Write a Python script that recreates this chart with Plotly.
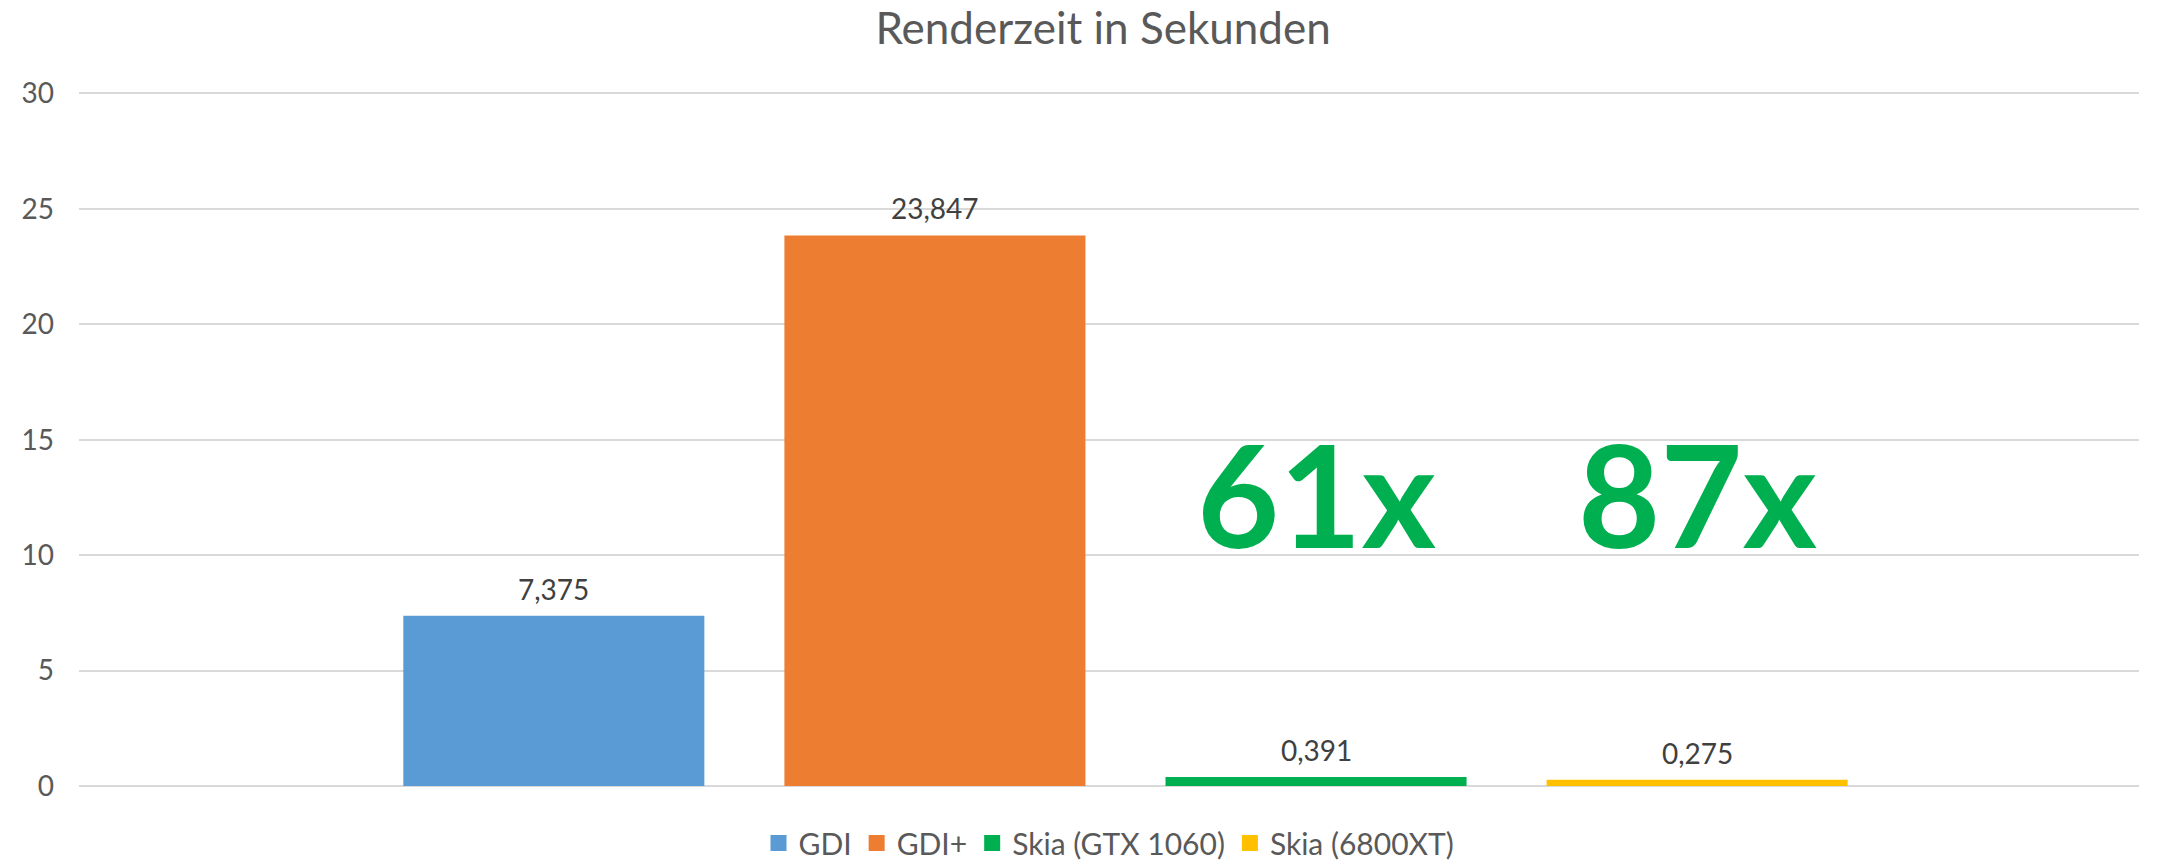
import plotly.graph_objects as go

# ---- data ----
category = ["Renderzeit"]
series_names = ["GDI", "GDI+", "Skia (GTX 1060)", "Skia (6800XT)"]
series_values = [7.375, 23.847, 0.391, 0.275]
series_colors = ["#5B9BD5", "#ED7D31", "#00B050", "#FFC000"]
speedup_labels = ["", "", "61x", "87x"]
y_ticks = [0, 5, 10, 15, 20, 25, 30]

BARGAP = 0.26
GROUPGAP = 0.21
n = len(series_names)
slot = (1 - BARGAP) / n

fig = go.Figure()
for name, val, col in zip(series_names, series_values, series_colors):
    fig.add_trace(go.Bar(
        x=category, y=[val], name=name, legendgroup=name, showlegend=False,
        marker=dict(color=col, line=dict(width=0)),
        cliponaxis=False,
    ))
# legend entries with larger square swatches (like the original)
for name, col in zip(series_names, series_colors):
    fig.add_trace(go.Scatter(
        x=[None], y=[None], mode="markers", name=name, legendgroup=name,
        marker=dict(symbol="square", size=18, color=col),
        showlegend=True, hoverinfo="skip",
    ))

annotations = []
for i, (val, lab) in enumerate(zip(series_values, speedup_labels)):
    xpos = (i - (n - 1) / 2) * slot
    annotations.append(dict(
        x=xpos, xref="x", y=val, yref="y", yanchor="bottom", xanchor="center",
        yshift=8, text=("%.3f" % val).replace(".", ","), showarrow=False,
        font=dict(family="Lato", size=28, color="#404040"),
    ))
    if lab:
        annotations.append(dict(
            x=xpos, xref="x", y=12.7, yref="y", yanchor="middle", xanchor="center",
            text="<b>%s</b>" % lab, showarrow=False,
            font=dict(family="Lato", size=142, color="#00B050"),
        ))

fig.update_layout(
    width=2178, height=862,
    margin=dict(l=71, r=47, t=84, b=84, autoexpand=False),
    paper_bgcolor="white", plot_bgcolor="white",
    barmode="group", bargap=BARGAP, bargroupgap=GROUPGAP,
    title=dict(text="Renderzeit in Sekunden", x=0.5028, xref="container",
               y=1 - 21 / 862, yref="container", xanchor="center", yanchor="middle",
               font=dict(family="Lato", size=44, color="#595959")),
    legend=dict(orientation="h", x=0.5, xanchor="center", y=-57 / 694, yanchor="middle",
                font=dict(family="Lato", size=30, color="#595959"),
                itemsizing="trace", traceorder="normal"),
    xaxis=dict(showticklabels=False, showgrid=False, showline=False, zeroline=False,
               range=[-0.508, 0.492]),
    yaxis=dict(range=[0, 30.06], tickvals=y_ticks, showgrid=True, gridcolor="#D9D9D9",
               gridwidth=2, zeroline=True, zerolinecolor="#D9D9D9", zerolinewidth=2,
               showline=False, ticklabelstandoff=24,
               tickfont=dict(family="Lato", size=28, color="#595959")),
    annotations=annotations,
    showlegend=True,
)

fig.write_html("out.html")
